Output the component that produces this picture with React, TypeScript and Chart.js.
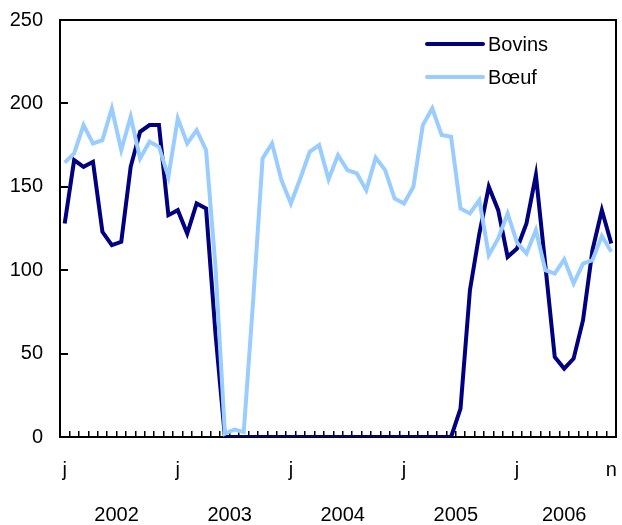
import React, { useEffect, useRef } from "react";
import { Chart, registerables } from "chart.js";

Chart.register(...registerables);

// ---- data ----
const years = ["2002", "2003", "2004", "2005", "2006"];
const monthInitials = ["j", "f", "m", "a", "m", "j", "j", "a", "s", "o", "n", "d"];
const monthsInLastYear = 11; // data ends in November 2006

const bovins = [
  128, 166, 162, 165, 123, 115, 117, 162, 183, 187, 187, 133,
  136, 122, 140, 137, 62, 0, 0, 0, 0, 0, 0, 0,
  0, 0, 0, 0, 0, 0, 0, 0, 0, 0, 0, 0,
  0, 0, 0, 0, 0, 0, 17, 88, 122, 150, 136, 108,
  113, 128, 157, 103, 48, 41, 47, 70, 112, 136, 116,
];

const boeuf = [
  164.5, 170, 187, 176, 178, 197, 172, 192, 167, 177, 174, 156,
  191, 176, 184, 172, 102, 2, 4.5, 3, 82, 167, 176, 154,
  140, 155, 171, 175, 154.5, 169, 160, 158, 148, 167.5, 160, 143,
  140, 150, 187, 197, 181, 180, 137, 134, 142, 109, 119, 134,
  116.5, 110, 124, 100, 98, 106.5, 92, 104, 106, 120.5, 111,
];

const seriesNames = ["Bovins", "Bœuf"];
const seriesColors = ["#000080", "#99CCFF"];

const yMin = 0;
const yMax = 250;
const yStep = 50;

// ---- derived categories ----
const catMonth: string[] = [];
const catYear: string[] = [];
years.forEach((y, yi) => {
  const n = yi === years.length - 1 ? monthsInLastYear : 12;
  for (let m = 0; m < n; m++) {
    catMonth.push(monthInitials[m]);
    catYear.push(y);
  }
});
const categories = catMonth.map((m, i) => `${m} ${catYear[i]}`);
const yearCenters = years.map((y) => {
  const first = catYear.indexOf(y);
  const last = catYear.lastIndexOf(y);
  return (first + last) / 2;
});

const FONT = "'Liberation Sans', Arial, Helvetica, sans-serif";

const zeroPadding = (axis: any) => {
  axis.paddingLeft = 0;
  axis.paddingRight = 0;
  axis.paddingTop = 0;
  axis.paddingBottom = 0;
};

const framePlugin = {
  id: "frame",
  beforeDatasetsDraw(chart: any) {
    const { ctx, chartArea: a } = chart;
    ctx.save();
    ctx.strokeStyle = "#000";
    ctx.lineWidth = 2;
    ctx.beginPath();
    ctx.moveTo(a.left - 1, a.top);
    ctx.lineTo(a.right, a.top);
    ctx.lineTo(a.right, a.bottom + 1);
    ctx.stroke();
    ctx.restore();
  },
};

const legendPlugin = {
  id: "insideLegend",
  afterDatasetsDraw(chart: any) {
    const { ctx, chartArea: a } = chart;
    ctx.save();
    chart.data.datasets.forEach((ds: any, i: number) => {
      const y = a.top + 24 + i * 33;
      const x0 = a.right - 189;
      ctx.strokeStyle = ds.borderColor;
      ctx.lineWidth = 4;
      ctx.lineCap = "round";
      ctx.beginPath();
      ctx.moveTo(x0, y);
      ctx.lineTo(x0 + 56, y);
      ctx.stroke();
      ctx.fillStyle = "#000";
      ctx.font = `20px ${FONT}`;
      ctx.textBaseline = "middle";
      ctx.textAlign = "left";
      ctx.fillText(ds.label, x0 + 61, y + 1);
    });
    ctx.restore();
  },
};

export default function App() {
  const canvasRef = useRef<HTMLCanvasElement | null>(null);

  useEffect(() => {
    if (!canvasRef.current) return;
    const chart = new Chart(canvasRef.current, {
      type: "line",
      data: {
        labels: categories,
        datasets: [
          {
            label: seriesNames[0],
            data: bovins,
            borderColor: seriesColors[0],
            backgroundColor: seriesColors[0],
            borderWidth: 4,
            pointRadius: 0,
            tension: 0,
            order: 1,
          },
          {
            label: seriesNames[1],
            data: boeuf,
            borderColor: seriesColors[1],
            backgroundColor: seriesColors[1],
            borderWidth: 4,
            pointRadius: 0,
            tension: 0,
            order: 0,
          },
        ],
      },
      options: {
        responsive: false,
        animation: false,
        devicePixelRatio: 1,
        layout: { padding: { left: 0, top: 20, right: 6, bottom: 0 } },
        plugins: {
          legend: { display: false },
          tooltip: { enabled: false },
        },
        scales: {
          x: {
            type: "category",
            position: "bottom",
            weight: 0,
            offset: true,
            grid: {
              offset: true,
              display: true,
              drawOnChartArea: false,
              drawTicks: true,
              tickLength: -6,
              color: "#000",
              lineWidth: 1.5,
            },
            border: { display: true, color: "#000", width: 2 },
            ticks: {
              autoSkip: false,
              maxRotation: 0,
              minRotation: 0,
              padding: 27,
              color: "#000",
              font: { family: FONT, size: 20 },
              callback: (_v: any, i: number) =>
                i === categories.length - 1 || i % 12 === 0 ? catMonth[i] : "",
            },
            afterFit: (axis: any) => {
              axis.height = 45;
              zeroPadding(axis);
            },
          },
          xYear: {
            type: "linear",
            position: "bottom",
            weight: 1,
            min: -0.5,
            max: categories.length - 0.5,
            grid: { display: false, drawTicks: false },
            border: { display: false },
            afterBuildTicks: (axis: any) => {
              axis.ticks = yearCenters.map((v) => ({ value: v }));
            },
            ticks: {
              autoSkip: false,
              maxRotation: 0,
              minRotation: 0,
              padding: 21,
              color: "#000",
              font: { family: FONT, size: 20 },
              callback: (v: any) => {
                const k = yearCenters.indexOf(Number(v));
                return k >= 0 ? years[k] : "";
              },
            },
            afterFit: (axis: any) => {
              axis.height = 43;
              zeroPadding(axis);
            },
          },
          y: {
            position: "left",
            min: yMin,
            max: yMax,
            grid: {
              display: true,
              drawOnChartArea: false,
              drawTicks: true,
              tickLength: -8,
              color: "#000",
              lineWidth: 2,
            },
            border: { display: true, color: "#000", width: 2 },
            ticks: {
              stepSize: yStep,
              padding: 25,
              color: "#000",
              font: { family: FONT, size: 20 },
            },
            afterFit: (axis: any) => {
              axis.width = 60;
              zeroPadding(axis);
            },
          },
        },
      },
      plugins: [framePlugin, legendPlugin],
    });
    return () => chart.destroy();
  }, []);

  return (
    <div style={{ position: "fixed", left: 0, top: 0, width: 622, height: 525, background: "#fff" }}>
      <canvas ref={canvasRef} width={622} height={525} style={{ display: "block" }} />
    </div>
  );
}
